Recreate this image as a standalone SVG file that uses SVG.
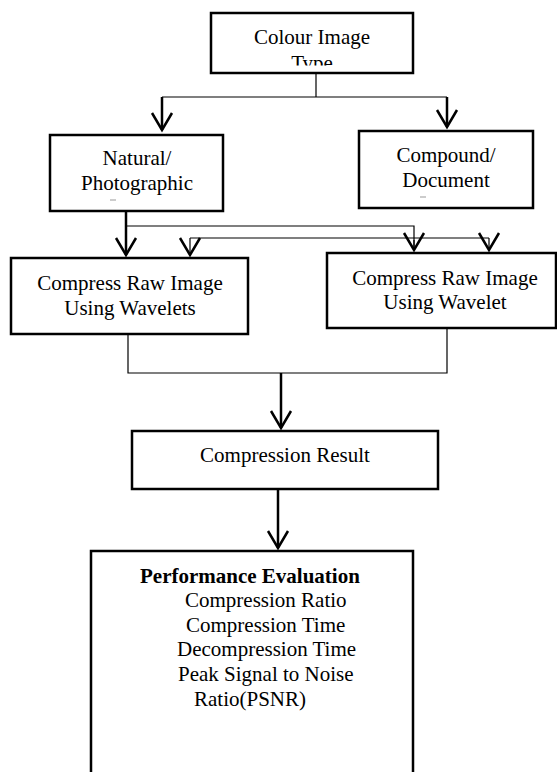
<svg xmlns="http://www.w3.org/2000/svg" width="557" height="772" viewBox="0 0 557 772">
<style>
.box{fill:#fff;stroke:#000;stroke-width:2.5}
.t{font-family:"Liberation Serif","Times New Roman",serif;font-size:21px;fill:#000}
.c{text-anchor:middle}
.b{font-weight:bold}
.thin{fill:none;stroke:#000;stroke-width:1.2}
.thick{fill:none;stroke:#000;stroke-width:2.5}
.dash{stroke:#999;stroke-width:1}
</style>
<defs>
<marker id="ah" markerUnits="userSpaceOnUse" markerWidth="40" markerHeight="40" viewBox="-20 -20 40 40" refX="0" refY="0" orient="auto" overflow="visible">
<path d="M-17,-10 L0,0 L-17,10" fill="none" stroke="#000" stroke-width="2.5" stroke-linejoin="miter"/>
</marker>
<clipPath id="clipTop"><rect x="200" y="0" width="220" height="65.5"/></clipPath>
</defs>
<rect width="557" height="772" fill="#fff"/>
<g id="connectors">
<path class="thin" d="M316,73 V97 M162,97 H447"/>
<path class="thick" d="M162,97 V130" marker-end="url(#ah)"/>
<path class="thick" d="M447,97 V127" marker-end="url(#ah)"/>
<path class="thick" d="M126,211 V255" marker-end="url(#ah)"/>
<path class="thin" d="M126,226 H414 V250"/>
<path class="thin" d="M414,240 V250" marker-end="url(#ah)"/>
<path class="thin" d="M190,238 H489"/>
<path class="thin" d="M190,238 V255" marker-end="url(#ah)"/>
<path class="thin" d="M489,238 V250" marker-end="url(#ah)"/>
<path class="thin" d="M128,334 V373 H447 V328"/>
<path class="thick" d="M281,373 V428" marker-end="url(#ah)"/>
<path class="thick" d="M278,489 V548" marker-end="url(#ah)"/>
</g>
<g id="colour-image-type">
<rect class="box" x="211" y="13" width="202" height="60"/>
<text class="t c" x="312" y="44">Colour Image</text>
<text class="t c" x="312" y="70" clip-path="url(#clipTop)">Type</text>
</g>
<g id="natural">
<rect class="box" x="50" y="135" width="173" height="76"/>
<text class="t c" x="137" y="165">Natural/</text>
<text class="t c" x="137" y="190">Photographic</text>
<line class="dash" x1="110" y1="200" x2="116" y2="200"/>
</g>
<g id="compound">
<rect class="box" x="359" y="131" width="174" height="77"/>
<text class="t c" x="446" y="162">Compound/</text>
<text class="t c" x="446" y="187">Document</text>
<line class="dash" x1="420" y1="197" x2="426" y2="197"/>
</g>
<g id="compress-left">
<rect class="box" x="11" y="258" width="237" height="76"/>
<text class="t c" x="130" y="290">Compress Raw Image</text>
<text class="t c" x="130" y="315">Using Wavelets</text>
</g>
<g id="compress-right">
<rect class="box" x="327" y="253" width="229" height="75"/>
<text class="t c" x="445" y="285">Compress Raw Image</text>
<text class="t c" x="445" y="309">Using Wavelet</text>
</g>
<g id="compression-result">
<rect class="box" x="132" y="431" width="306" height="58"/>
<text class="t c" x="285" y="462">Compression Result</text>
</g>
<g id="performance">
<rect class="box" x="91" y="551" width="322" height="240"/>
<text class="t b" x="140" y="583">Performance Evaluation</text>
<text class="t" x="185" y="607">Compression Ratio</text>
<text class="t" x="186" y="632">Compression Time</text>
<text class="t" x="177" y="656">Decompression Time</text>
<text class="t" x="178" y="681">Peak Signal to Noise</text>
<text class="t" x="194" y="706">Ratio(PSNR)</text>
</g>
</svg>
